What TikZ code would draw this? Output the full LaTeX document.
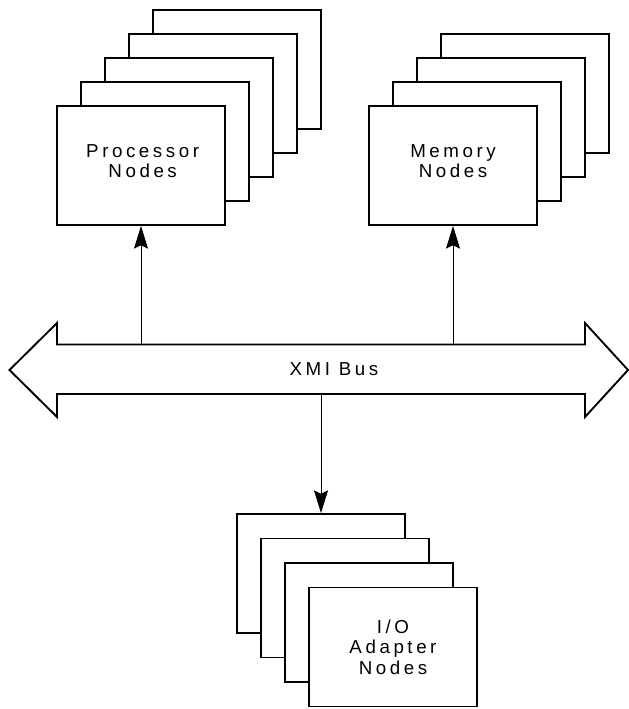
\documentclass[tikz,border=0pt]{standalone}
\usepackage{fontspec}
\setmainfont{Liberation Sans}[LetterSpace=19]
\usetikzlibrary{arrows.meta}

\begin{document}
\begin{tikzpicture}[x=0.03cm, y=-0.03cm,
    >={Stealth[length=6.8mm, width=4.2mm, inset=1mm]},
    card/.style={draw, line width=1.6pt, fill=white,
        minimum width=5.04cm, minimum height=3.57cm,
        align=center, inner sep=0pt, font=\fontsize{16}{17.5}\selectfont},
    link/.style={->, line width=0.8pt}]

        \useasboundingbox (0,0) rectangle (629,709);

        % Stack of processor cards, back one first.
        \node[card] (proc5) at (237,  69.5) {};
        \node[card] (proc4) at (213,  93.5) {};
        \node[card] (proc3) at (189, 117.5) {};
        \node[card] (proc2) at (165, 141.5) {};
        \node[card] (proc1) at (141, 165.5) {\hspace{1mm}Processor\\\hspace{1mm}Nodes\rule[-2.7mm]{0pt}{0pt}};

        % Stack of memory cards.
        \node[card] (mem4) at (525,  93.5) {};
        \node[card] (mem3) at (501, 117.5) {};
        \node[card] (mem2) at (477, 141.5) {};
        \node[card] (mem1) at (453, 165.5) {Memory\\Nodes\rule[-2.7mm]{0pt}{0pt}};

        % Stack of I/O adapter cards, running down to the right.
        \node[card] (io4) at (321, 573.5) {};
        \node[card] (io3) at (345, 598.0) {};
        \node[card] (io2) at (369, 622.5) {};
        \node[card] (io1) at (393, 647.0) {I/O\\Adapter\\Nodes};

        % The bus as a double headed block arrow.
        \draw[line width=1.6pt]
            (57, 344.5) -- (585, 344.5) -- (585, 323) -- (628, 370)
                -- (585, 417) -- (585, 394) -- (57, 394) -- (57, 417)
                -- (9.5, 370) -- (57, 323) -- cycle;
        \coordinate (bustop) at (300, 344.5);
        \coordinate (busbot) at (300, 394);
        \node[font=\fontsize{16}{17.5}\selectfont] (bus) at (334, 369.5) {XMI Bus};

        % Links between the bus and the cards.
        \draw[link] (proc1.south |- bustop) -- (proc1.south);
        \draw[link] (mem1.south |- bustop) -- (mem1.south);
        \draw[link] (io4.north |- busbot) -- (io4.north);
    \end{tikzpicture}
\end{document}
